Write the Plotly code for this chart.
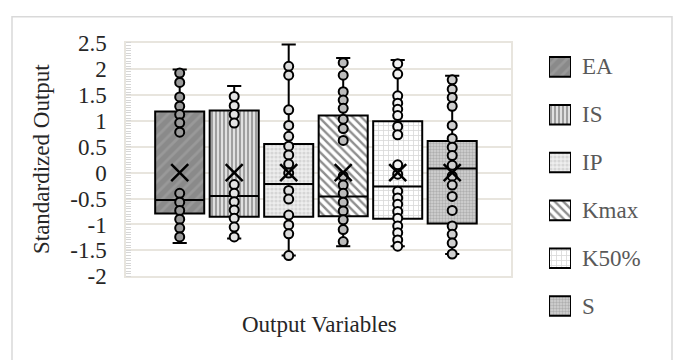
import plotly.graph_objects as go

# ---- data -------------------------------------------------------------
variables = ["EA", "IS", "IP", "Kmax", "K50%", "S"]

q1 = [-0.79, -0.85, -0.85, -0.84, -0.89, -0.98]
median = [-0.53, -0.45, -0.22, -0.46, -0.27, 0.08]
q3 = [1.18, 1.20, 0.55, 1.10, 0.99, 0.61]
whisker_low = [-1.36, -1.27, -1.60, -1.42, -1.42, -1.57]
whisker_high = [1.99, 1.67, 2.47, 2.21, 2.17, 1.87]
mean = [0.0, 0.0, 0.0, 0.0, 0.0, 0.0]

ea_points = [1.92, 1.74, 1.46, 1.28, 1.12, 0.96, 0.78,
             -0.40, -0.57, -0.73, -0.90, -1.07, -1.24]
is_points = [1.47, 1.29, 1.12, 0.955,
             -0.23, -0.40, -0.56, -0.72, -0.88, -1.05, -1.24]
ip_points = [2.05, 1.88, 1.21, 0.91, 0.70, 0.51, 0.34, 0.165, -0.01,
             -0.345, -0.51, -0.82, -1.01, -1.18, -1.60]
kmax_points = [2.12, 1.88, 1.56, 1.40, 1.24, 1.03, 0.85, 0.62,
               -0.07, -0.24, -0.40, -0.57, -0.74, -0.91, -1.10, -1.33]
k50_points = [2.10, 1.90, 1.48, 1.34, 1.22, 1.10, 0.89, 0.73, 0.15, -0.03,
              -0.36, -0.49, -0.61, -0.75, -0.88, -1.03, -1.16, -1.30, -1.42]
s_points = [1.79, 1.61, 1.45, 1.28, 0.91, 0.66, 0.49, 0.33, 0.14, -0.07,
            -0.24, -0.46, -0.73, -1.03, -1.19, -1.36, -1.57]
all_points = [ea_points, is_points, ip_points, kmax_points, k50_points, s_points]

y_tick_vals = [-2, -1.5, -1, -0.5, 0, 0.5, 1, 1.5, 2, 2.5]
y_tick_text = ["-2", "-1.5", "-1", "-0.5", "0", "0.5", "1", "1.5", "2", "2.5"]

# ---- styling ----------------------------------------------------------
patterns = [
    dict(shape="/", bgcolor="#8a8a8a", fgcolor="#a8a8a8", size=8, solidity=0.35, fillmode="overlay"),
    dict(shape="|", bgcolor="#e0e0e0", fgcolor="#5e5e5e", size=4, solidity=0.5, fillmode="overlay"),
    dict(shape=".", bgcolor="#eeeeee", fgcolor="#bdbdbd", size=4, solidity=0.5, fillmode="overlay"),
    dict(shape="\\", bgcolor="#ffffff", fgcolor="#1e1e1e", size=6, solidity=0.4, fillmode="overlay"),
    dict(shape="+", bgcolor="#ffffff", fgcolor="#b0b0b0", size=5, solidity=0.3, fillmode="overlay"),
    dict(shape=".", bgcolor="#d4d4d4", fgcolor="#8a8a8a", size=3, solidity=0.5, fillmode="overlay"),
]
point_fill = ["#9a9a9a", "#e4e4e4", "#dcdcdc", "#bcbcbc", "#f2f2f2", "#cfcfcf"]

W, H = 677, 360
FONT = "Liberation Serif"
BOX_W = 0.9
CAP = 0.13


def px_x(p):
    return p / W


def px_y(p):
    return 1 - p / H


fig = go.Figure()

# boxes (interquartile range as patterned bars)
for i, name in enumerate(variables):
    fig.add_trace(go.Bar(
        x=[i], base=[q1[i]], y=[q3[i] - q1[i]], width=BOX_W, name=name,
        marker=dict(color=patterns[i]["bgcolor"], pattern=patterns[i],
                    line=dict(color="black", width=2)),
        showlegend=False, hoverinfo="skip"))

# whiskers, caps and medians
for i in range(len(variables)):
    fig.add_trace(go.Scatter(
        x=[i, i, None, i, i],
        y=[q3[i], whisker_high[i], None, q1[i], whisker_low[i]],
        mode="lines", line=dict(color="black", width=2),
        showlegend=False, hoverinfo="skip"))
    fig.add_trace(go.Scatter(
        x=[i - CAP, i + CAP, None, i - CAP, i + CAP],
        y=[whisker_high[i], whisker_high[i], None, whisker_low[i], whisker_low[i]],
        mode="lines", line=dict(color="black", width=2),
        showlegend=False, hoverinfo="skip"))
    fig.add_trace(go.Scatter(
        x=[i - BOX_W / 2, i + BOX_W / 2], y=[median[i], median[i]],
        mode="lines", line=dict(color="black", width=2),
        showlegend=False, hoverinfo="skip"))

# inner points
for i, pts in enumerate(all_points):
    fig.add_trace(go.Scatter(
        x=[i] * len(pts), y=pts, mode="markers",
        marker=dict(symbol="circle", size=9, color=point_fill[i],
                    line=dict(color="black", width=2)),
        showlegend=False, cliponaxis=False))

# mean markers
fig.add_trace(go.Scatter(
    x=list(range(len(variables))), y=mean, mode="markers",
    marker=dict(symbol="x-thin", size=17, line=dict(color="black", width=2.5)),
    showlegend=False, cliponaxis=False))

# legend swatches on their own small axes
for i, name in enumerate(variables):
    fig.add_trace(go.Bar(
        x=[0.5], base=[i - 0.205], y=[0.41], width=1, xaxis="x2", yaxis="y2",
        marker=dict(color=patterns[i]["bgcolor"], pattern=patterns[i],
                    line=dict(color="black", width=2)),
        showlegend=False, hoverinfo="skip"))
    fig.add_annotation(
        x=px_x(580), xref="paper", y=i, yref="y2", text=name, showarrow=False,
        xanchor="left", yanchor="middle",
        font=dict(family=FONT, size=23, color="#595959"))

grid = "#e8e5de"
fig.update_layout(
    width=W, height=H, margin=dict(l=0, r=0, t=0, b=0),
    paper_bgcolor="white", plot_bgcolor="white",
    barmode="overlay", showlegend=False,
    font=dict(family=FONT, color="#262626"),
    xaxis=dict(domain=[px_x(126), px_x(511)],
               range=[(126 - 179.7) / 54.5, (511 - 179.7) / 54.5],
               showticklabels=False, showgrid=False, zeroline=False,
               showline=True, mirror=True, linecolor=grid, linewidth=1.5,
               fixedrange=True),
    yaxis=dict(domain=[px_y(284), px_y(33.3)], range=[-2, 2.5],
               tickvals=y_tick_vals, ticktext=y_tick_text,
               tickfont=dict(family=FONT, size=23, color="#262626"),
               showgrid=True, gridcolor=grid, gridwidth=1.5, zeroline=False,
               showline=True, mirror=True, linecolor=grid, linewidth=1.5,
               ticks="", ticklabelstandoff=13,
               minor=dict(ticks="inside", dtick=0.05, ticklen=5,
                          tickcolor="#d6d6d6", showgrid=False)),
    xaxis2=dict(domain=[px_x(549), px_x(571)], range=[0, 1], visible=False,
                anchor="y2"),
    yaxis2=dict(domain=[px_y(341.7), px_y(33.3)], range=[5.5, -0.5],
                visible=False, anchor="x2"),
    shapes=[dict(type="rect", xref="paper", yref="paper",
                 x0=px_x(12), x1=px_x(672), y0=-0.05, y1=px_y(5),
                 line=dict(color="#d9d9d9", width=1.5), fillcolor="rgba(0,0,0,0)",
                 layer="below")],
)

# axis titles
fig.add_annotation(
    x=px_x(41), y=px_y(158), xref="paper", yref="paper",
    text="Standardized Output", textangle=-90, showarrow=False,
    xanchor="center", yanchor="middle",
    font=dict(family=FONT, size=23, color="#262626"))
fig.add_annotation(
    x=px_x(319), y=px_y(336), xref="paper", yref="paper",
    text="Output Variables", showarrow=False,
    xanchor="center", yanchor="middle",
    font=dict(family=FONT, size=23, color="#262626"))

fig.write_html("out.html")
